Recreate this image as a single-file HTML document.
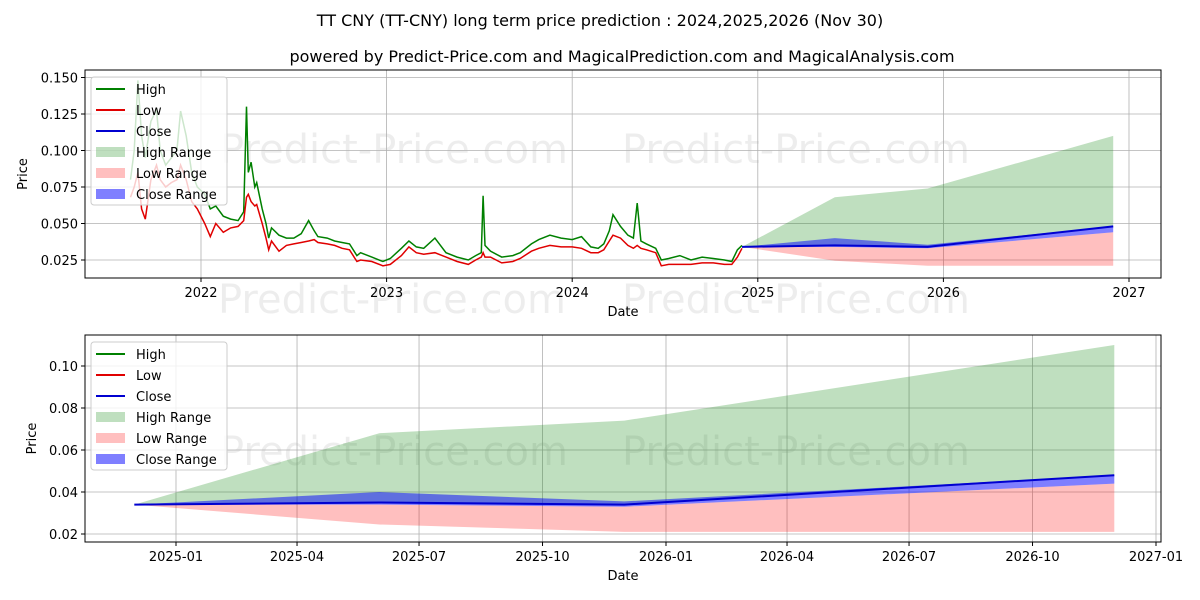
<!DOCTYPE html>
<html><head><meta charset="utf-8"><style>
body{margin:0;background:#fff;width:1200px;height:600px;overflow:hidden}
svg{display:block;font-family:"DejaVu Sans","Liberation Sans",sans-serif}
</style></head><body>
<svg id="c" width="1200" height="600"></svg>
<script>
// ---- historical data (year fraction, high, low) ----
const histT=[2021.62,2021.64,2021.66,2021.68,2021.70,2021.73,2021.76,2021.78,2021.81,2021.84,2021.87,2021.89,2021.92,2021.95,2021.98,2022.02,2022.05,2022.08,2022.12,2022.16,2022.20,2022.23,2022.245,2022.255,2022.27,2022.29,2022.30,2022.33,2022.35,2022.365,2022.38,2022.42,2022.46,2022.50,2022.54,2022.58,2022.61,2022.63,2022.68,2022.72,2022.76,2022.80,2022.84,2022.86,2022.92,2022.98,2023.02,2023.08,2023.12,2023.16,2023.20,2023.26,2023.32,2023.38,2023.44,2023.48,2023.51,2023.52,2023.53,2023.56,2023.62,2023.68,2023.72,2023.78,2023.82,2023.88,2023.94,2024.00,2024.05,2024.10,2024.14,2024.17,2024.20,2024.22,2024.26,2024.30,2024.33,2024.35,2024.37,2024.40,2024.45,2024.48,2024.52,2024.58,2024.64,2024.70,2024.76,2024.82,2024.86,2024.89,2024.915];
const histHigh=[.080,.100,.148,.110,.095,.120,.128,.100,.090,.095,.100,.127,.110,.085,.075,.070,.060,.062,.055,.053,.052,.058,.130,.085,.092,.075,.078,.060,.050,.040,.047,.042,.040,.040,.043,.052,.045,.041,.040,.038,.037,.036,.028,.030,.027,.024,.026,.033,.038,.034,.033,.040,.030,.027,.025,.028,.030,.069,.035,.031,.027,.028,.030,.036,.039,.042,.040,.039,.041,.034,.033,.036,.045,.056,.048,.042,.040,.064,.038,.036,.033,.025,.026,.028,.025,.027,.026,.025,.024,.032,.035];
const histLow=[.068,.075,.085,.060,.053,.080,.090,.080,.075,.078,.080,.090,.080,.065,.060,.050,.041,.050,.044,.047,.048,.052,.068,.070,.065,.062,.063,.050,.040,.032,.038,.031,.035,.036,.037,.038,.039,.037,.036,.035,.033,.032,.024,.025,.024,.021,.022,.028,.034,.030,.029,.030,.027,.024,.022,.025,.027,.030,.027,.027,.023,.024,.026,.031,.033,.035,.034,.034,.033,.030,.030,.032,.038,.042,.040,.035,.033,.035,.033,.032,.030,.021,.022,.022,.022,.023,.023,.022,.022,.027,.033];
// ---- forecast data ----
const fcT=[2024.915,2025.415,2025.915,2026.915];
const fcHighUp=[0.034,0.068,0.074,0.110];
const fcClose=[0.034,0.035,0.034,0.048];
const fcCloseUp=[0.034,0.040,0.0355,0.048];
const fcCloseLo=[0.034,0.034,0.033,0.044];
const fcLowLo=[0.034,0.0245,0.021,0.021];
const topYTicks=[0.025,0.050,0.075,0.100,0.125,0.150];
const topXTicks=[2022,2023,2024,2025,2026,2027];
const botYTicks=[0.02,0.04,0.06,0.08,0.10];
const botXTicks=[[2025,"2025-01"],[2025.247,"2025-04"],[2025.496,"2025-07"],[2025.748,"2025-10"],[2026,"2026-01"],[2026.247,"2026-04"],[2026.496,"2026-07"],[2026.748,"2026-10"],[2027,"2027-01"]];

const svg=document.getElementById('c');
const NS="http://www.w3.org/2000/svg";
function mk(tag,attrs,parent,text){const e=document.createElementNS(NS,tag);for(const k in attrs)e.setAttribute(k,attrs[k]);if(text!==undefined)e.textContent=text;(parent||svg).appendChild(e);return e;}

let t1=mk('text',{x:600,y:26,'text-anchor':'middle','font-size':16,fill:'#000'},svg,'TT CNY (TT-CNY) long term price prediction : 2024,2025,2026 (Nov 30)');


let t2=mk('text',{x:622,y:62,'text-anchor':'middle','font-size':16,fill:'#000'},svg,'powered by Predict-Price.com and MagicalPrediction.com and MagicalAnalysis.com');



function panel(name,L,R,T,B,xs,ys,yTicks,yFmt,xTicks,drawData,legendY,wm){
  const g=mk('g',{});
  
  
  wm.forEach(p=>{const w=mk('text',{x:p[0],y:p[1],'font-size':40,fill:'#000','fill-opacity':0.07},g,'Predict-Price.com');
    
    });
  yTicks.forEach(v=>{const y=ys(v);
    mk('line',{x1:L,x2:R,y1:y,y2:y,stroke:'#b0b0b0','stroke-width':0.8},g);
    mk('line',{x1:L-4,x2:L,y1:y,y2:y,stroke:'#000'},g);
    const tl=mk('text',{x:L-7,y:y+5,'text-anchor':'end','font-size':13},g,yFmt(v));
    
    });
  xTicks.forEach(tk=>{const x=xs(tk[0]);
    mk('line',{x1:x,x2:x,y1:T,y2:B,stroke:'#b0b0b0','stroke-width':0.8},g);
    mk('line',{x1:x,x2:x,y1:B,y2:B+4,stroke:'#000'},g);
    const tl=mk('text',{x:x,y:B+19,'text-anchor':'middle','font-size':13},g,tk[1]);
    
    });
  drawData(g);
  mk('rect',{x:L,y:T,width:R-L,height:B-T,fill:'none',stroke:'#000','stroke-width':1},g);
  const xl=mk('text',{x:(L+R)/2,y:B+38,'text-anchor':'middle','font-size':13},g,'Date');
  
  
  const yl=mk('text',{x:0,y:0,'text-anchor':'middle','font-size':13,transform:`translate(${name==='top-panel'?27:36},${(T+B)/2}) rotate(-90)`},g,'Price');
  
  
  const lg=mk('g',{},g);
  
  
  mk('rect',{x:91,y:legendY,width:136,height:128,rx:3,fill:'#fff','fill-opacity':0.8,stroke:'#ccc'},lg);
  const items=[['High','line','#008000'],['Low','line','#e00000'],['Close','line','#0000d0'],['High Range','box','rgba(0,128,0,0.25)'],['Low Range','box','rgba(255,0,0,0.25)'],['Close Range','box','rgba(0,0,255,0.5)']];
  items.forEach((it,i)=>{const y=legendY+12+i*21;
    if(it[1]==='line')mk('line',{x1:96,x2:125,y1:y,y2:y,stroke:it[2],'stroke-width':2},lg);
    else mk('rect',{x:96,y:y-5,width:29,height:10,fill:it[2]},lg);
    const te=mk('text',{x:136,y:y+5,'font-size':13},lg,it[0]);
    
    });
}
function poly(xs,ys,T,V){return T.map((t,i)=>xs(t).toFixed(1)+','+ys(V[i]).toFixed(1)).join(' ');}
function band(g,xs,ys,T,up,lo,fill,name){
  const pts=poly(xs,ys,T,up)+' '+poly(xs,ys,T.slice().reverse(),lo.slice().reverse());
  const p=mk('polygon',{points:pts,fill:fill},g);
  
  
}
function fc(g,xs,ys){
  band(g,xs,ys,fcT,fcHighUp,fcClose,'rgba(0,128,0,0.25)','high-range-band');
  band(g,xs,ys,fcT,fcCloseLo,fcLowLo,'rgba(255,0,0,0.25)','low-range-band');
  band(g,xs,ys,fcT,fcCloseUp,fcCloseLo,'rgba(0,0,255,0.5)','close-range-band');
  const l=mk('polyline',{points:poly(xs,ys,fcT,fcClose),fill:'none',stroke:'#0000d0','stroke-width':2},g);
  
  
}
const xsT=t=>201+(t-2022)*185.6, ysT=v=>260-(v-0.025)*1460;
panel('top-panel',85,1161,70,278,xsT,ysT,topYTicks,v=>v.toFixed(3),topXTicks.map(y=>[y,String(y)]),g=>{
  fc(g,xsT,ysT);
  const h=mk('polyline',{points:poly(xsT,ysT,histT,histHigh),fill:'none',stroke:'#008000','stroke-width':1.5},g);
  
  
  const l=mk('polyline',{points:poly(xsT,ysT,histT,histLow),fill:'none',stroke:'#e00000','stroke-width':1.5},g);
  
  
},77,[[220,163],[622,163],[218,313],[622,313]]);
const xsB=t=>176+(t-2025)*490, ysB=v=>534-(v-0.02)*2100;
panel('bottom-panel',85,1161,335,542,xsB,ysB,botYTicks,v=>v.toFixed(2),botXTicks,g=>{fc(g,xsB,ysB);},342,[[220,465],[622,465]]);
</script>
</body></html>
